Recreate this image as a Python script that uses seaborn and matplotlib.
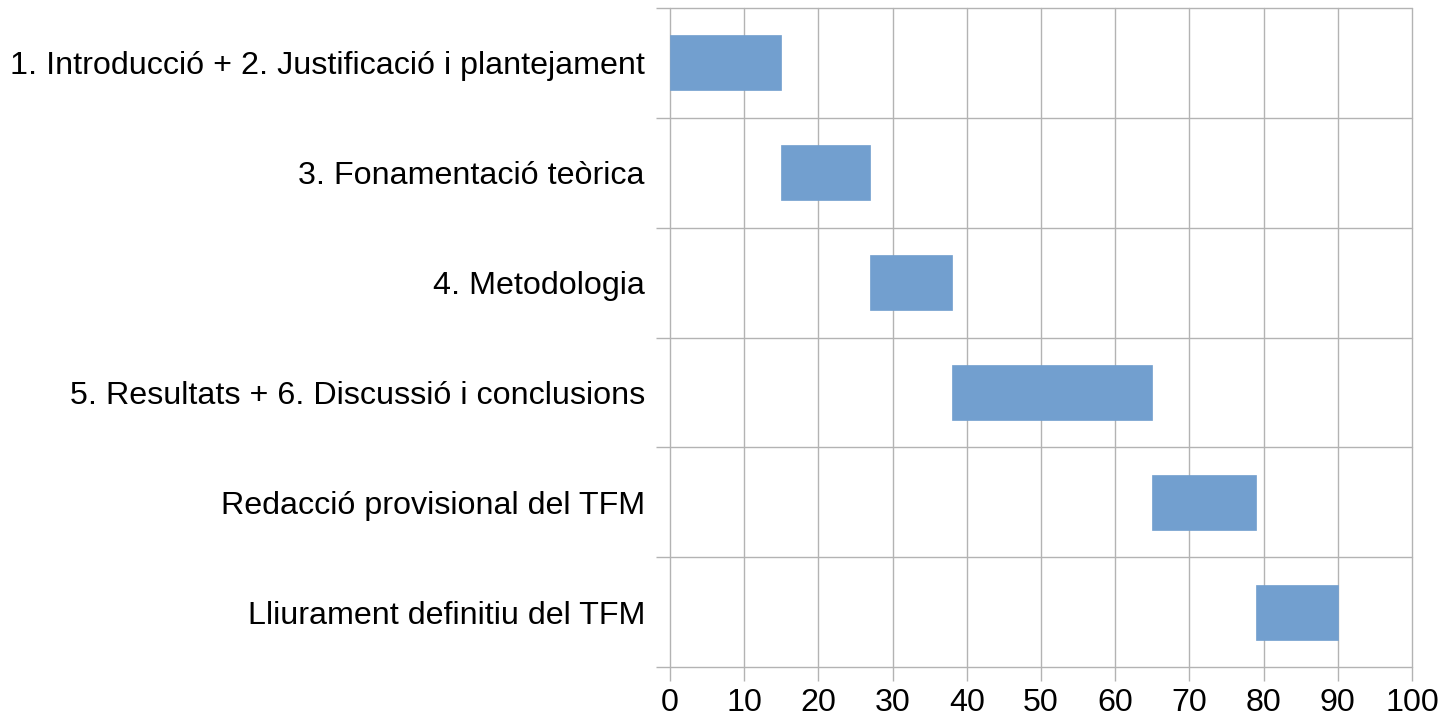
import matplotlib
matplotlib.use("Agg")
import matplotlib.pyplot as plt
import seaborn as sns
import pandas as pd
from matplotlib.ticker import MultipleLocator, FixedLocator

tasks = [
    "1. Introducció + 2. Justificació i plantejament",
    "3. Fonamentació teòrica",
    "4. Metodologia",
    "5. Resultats + 6. Discussió i conclusions",
    "Redacció provisional del TFM",
    "Lliurament definitiu del TFM",
]
start = [0, 15, 27, 38, 65, 79]
duration = [15, 12, 11, 27, 14, 11]

df = pd.DataFrame({"task": tasks, "start": start, "duration": duration})

sns.set_style("white")
plt.rcParams["font.family"] = ["Liberation Sans", "DejaVu Sans"]

fig = plt.figure(figsize=(14.44, 7.21), dpi=100)
ax = fig.add_axes([670 / 1444, 54 / 721, (1412 - 670) / 1444, (667 - 8) / 721])

grid_c = "#b3b3b3"
sns.barplot(data=df, y="task", x="duration", left=df["start"].to_numpy(),
            orient="h", color="#729fcf", saturation=1, width=0.5,
            edgecolor="#729fcf", linewidth=0.5, ax=ax, zorder=3)

ax.set_xlim(0, 100)
ax.set_ylim(len(tasks) - 0.5, -0.5)
ax.xaxis.set_major_locator(MultipleLocator(10))
ax.yaxis.set_minor_locator(FixedLocator([i - 0.5 for i in range(len(tasks) + 1)]))

for s in ax.spines.values():
    s.set_visible(False)

ax.grid(True, axis="x", which="major", color=grid_c, linewidth=1.0, zorder=0)
ax.grid(True, axis="y", which="minor", color=grid_c, linewidth=1.0, zorder=0)
ax.grid(False, axis="y", which="major")
ax.set_axisbelow(True)

ax.tick_params(axis="x", which="major", bottom=True, length=10, width=1.0,
               color=grid_c, labelsize=23.2, pad=5, labelcolor="black")
ax.tick_params(axis="y", which="minor", left=True, length=10, width=1.0,
               color=grid_c)
ax.tick_params(axis="y", which="major", left=True, length=0, labelsize=23.2,
               pad=18, labelcolor="black")

ax.set_xlabel("")
ax.set_ylabel("")

fig.canvas.draw()
for t in ax.yaxis.get_minor_ticks():
    t.gridline.set_clip_on(False)
for t in ax.xaxis.get_major_ticks():
    t.gridline.set_clip_on(False)

fig.savefig("out.png", dpi=100)
